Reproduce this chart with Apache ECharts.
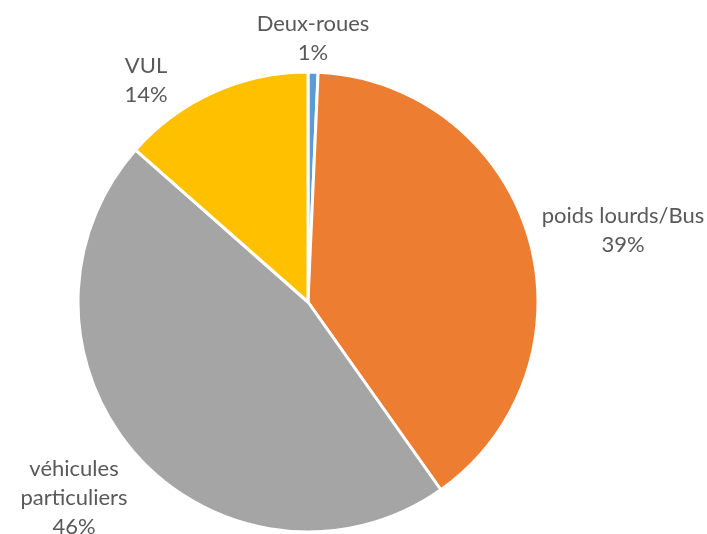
<!DOCTYPE html>
<html>
<head>
<meta charset="utf-8">
<script src="https://cdn.jsdelivr.net/npm/echarts@6/dist/echarts.min.js"></script>
<style>
html,body{margin:0;padding:0;background:#fff;}
#c{width:707px;height:534px;}
</style>
</head>
<body>
<div id="c"></div>
<script>
// Data
const categories = ['Deux-roues', 'poids lourds/Bus', 'véhicules particuliers', 'VUL'];
const labelTexts = ['Deux-roues', 'poids lourds/Bus', 'véhicules\nparticuliers', 'VUL'];
const values = [0.7, 39.5, 46.3, 13.5];
const percentLabels = [1, 39, 46, 14];
const colors = ['#5B9BD5', '#ED7D31', '#A5A5A5', '#FFC000'];

// label anchor positions (layout only)
const labelPos = [[313, 38], [623, 230], [74, 498], [146, 80]];

const chart = echarts.init(document.getElementById('c'));
chart.setOption({
  animation: false,
  backgroundColor: '#ffffff',
  series: [{
    type: 'pie',
    center: [308, 302],
    radius: [0, 230],
    startAngle: 90,
    clockwise: true,
    data: categories.map((n, i) => ({
      name: n,
      value: values[i],
      itemStyle: { color: colors[i] }
    })),
    itemStyle: { borderColor: '#ffffff', borderWidth: 3 },
    label: {
      show: true,
      position: 'outside',
      fontFamily: 'Lato',
      fontSize: 22,
      lineHeight: 29,
      color: '#595959',
      align: 'center',
      overflow: 'none',
      formatter: p => labelTexts[p.dataIndex] + '\n' + percentLabels[p.dataIndex] + '%'
    },
    labelLine: { show: false },
    labelLayout: function (p) {
      const pos = labelPos[p.dataIndex];
      return { x: pos[0], y: pos[1], align: 'center', verticalAlign: 'middle' };
    },
    emphasis: { disabled: true }
  }]
});
</script>
</body>
</html>
